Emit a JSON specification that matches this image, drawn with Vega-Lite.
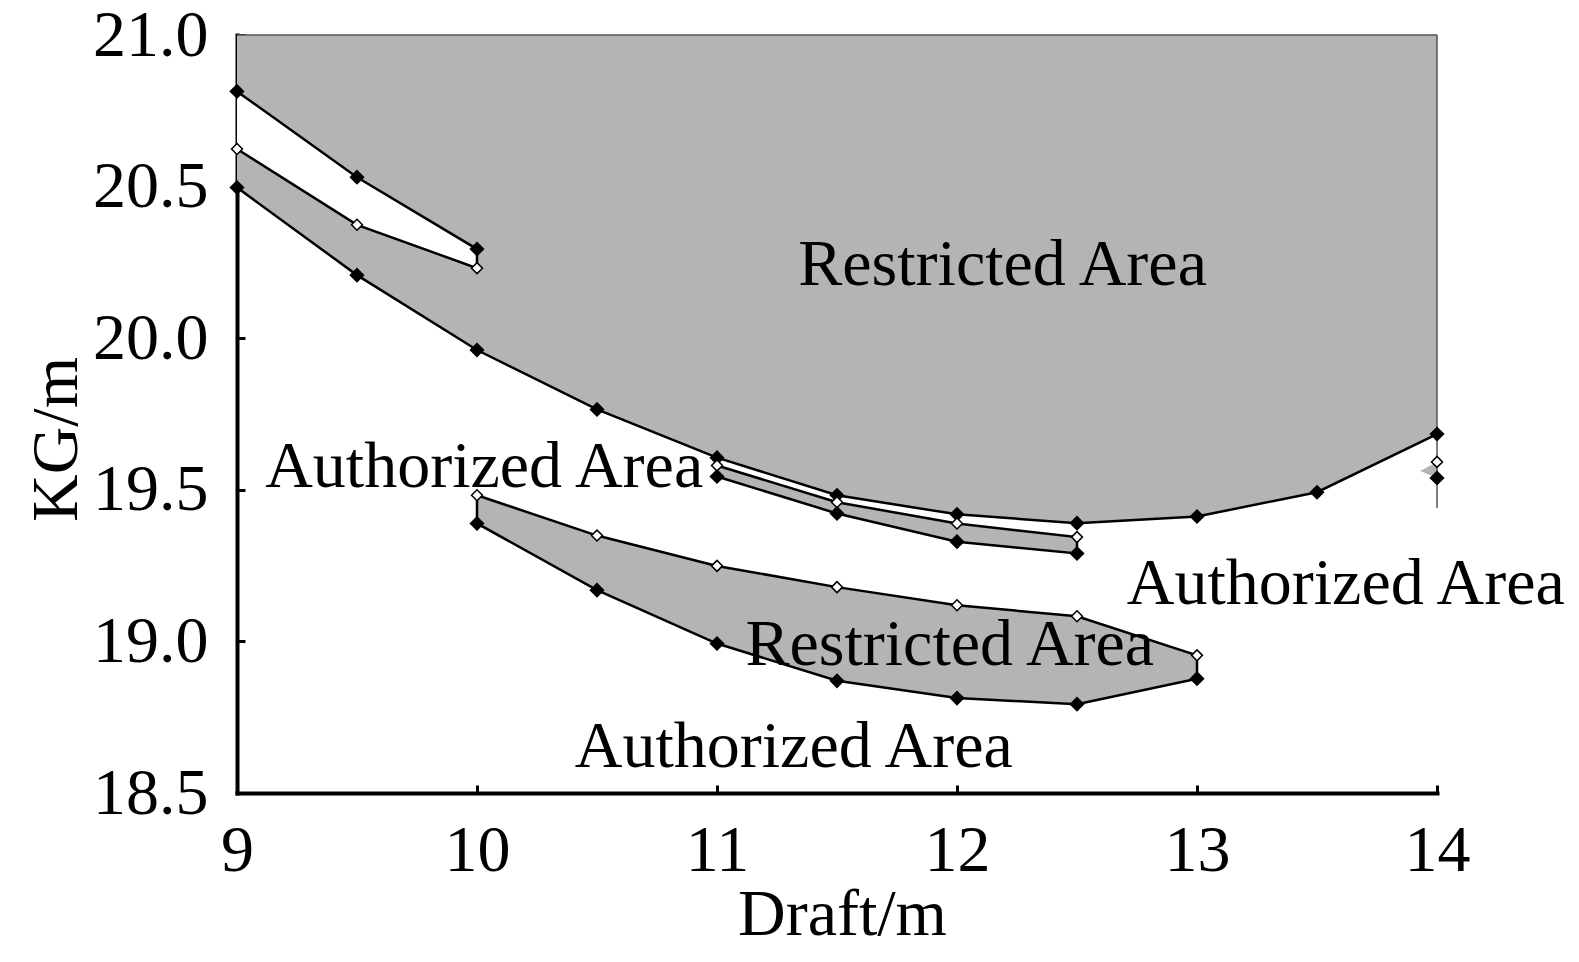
{
  "$schema": "https://vega.github.io/schema/vega-lite/v6.json",
  "width": 1200,
  "height": 758,
  "autosize": {"type": "none"},
  "padding": {"left": 237, "top": 35, "right": 142, "bottom": 169},
  "background": "white",
  "config": {
    "view": {"stroke": null},
    "font": "Liberation Serif",
    "axis": {
      "labelFont": "Liberation Serif",
      "titleFont": "Liberation Serif",
      "labelFontSize": 66,
      "titleFontSize": 66,
      "labelColor": "black",
      "titleColor": "black",
      "titleFontWeight": "normal",
      "domainColor": "black",
      "domainWidth": 4,
      "domainCap": "square",
      "tickColor": "black",
      "tickWidth": 3,
      "tickSize": -8,
      "grid": false
    }
  },
  "datasets": {
    "main": [
      {"x": 9, "y": 20.497, "y2": 21},
      {"x": 9.5, "y": 20.208, "y2": 21},
      {"x": 10, "y": 19.961, "y2": 21},
      {"x": 10.5, "y": 19.765, "y2": 21},
      {"x": 11, "y": 19.606, "y2": 21},
      {"x": 11.5, "y": 19.482, "y2": 21},
      {"x": 12, "y": 19.419, "y2": 21},
      {"x": 12.5, "y": 19.39, "y2": 21},
      {"x": 13, "y": 19.412, "y2": 21},
      {"x": 13.5, "y": 19.492, "y2": 21},
      {"x": 14, "y": 19.684, "y2": 21}
    ],
    "wedge": [
      {"x": 9, "y": 20.814, "y2": 20.624},
      {"x": 9.5, "y": 20.531, "y2": 20.374},
      {"x": 10, "y": 20.294, "y2": 20.231}
    ],
    "strip": [
      {"x": 11, "y": 19.58, "y2": 19.544},
      {"x": 11.5, "y": 19.459, "y2": 19.422},
      {"x": 12, "y": 19.389, "y2": 19.329},
      {"x": 12.5, "y": 19.344, "y2": 19.29}
    ],
    "lower": [
      {"x": 10, "y": 19.482, "y2": 19.389},
      {"x": 10.5, "y": 19.349, "y2": 19.169},
      {"x": 11, "y": 19.249, "y2": 18.993},
      {"x": 11.5, "y": 19.179, "y2": 18.87},
      {"x": 12, "y": 19.119, "y2": 18.813},
      {"x": 12.5, "y": 19.083, "y2": 18.793},
      {"x": 13, "y": 18.954, "y2": 18.877}
    ],
    "tri": [
      {"x": 13.93, "y": 19.562, "y2": 19.562},
      {"x": 14, "y": 19.592, "y2": 19.539}
    ],
    "edges": [
      {"x": 14, "x2": 14, "y": 19.44, "y2": 21},
      {"x": 9, "x2": 14, "y": 21, "y2": 21}
    ],
    "paths": [
      {"s": "main", "i": 1, "x": 9, "y": 20.497},
      {"s": "main", "i": 2, "x": 9.5, "y": 20.208},
      {"s": "main", "i": 3, "x": 10, "y": 19.961},
      {"s": "main", "i": 4, "x": 10.5, "y": 19.765},
      {"s": "main", "i": 5, "x": 11, "y": 19.606},
      {"s": "main", "i": 6, "x": 11.5, "y": 19.482},
      {"s": "main", "i": 7, "x": 12, "y": 19.419},
      {"s": "main", "i": 8, "x": 12.5, "y": 19.39},
      {"s": "main", "i": 9, "x": 13, "y": 19.412},
      {"s": "main", "i": 10, "x": 13.5, "y": 19.492},
      {"s": "main", "i": 11, "x": 14, "y": 19.684},
      {"s": "wedge", "i": 1, "x": 9, "y": 20.814},
      {"s": "wedge", "i": 2, "x": 9.5, "y": 20.531},
      {"s": "wedge", "i": 3, "x": 10, "y": 20.294},
      {"s": "wedge", "i": 4, "x": 10, "y": 20.231},
      {"s": "wedge", "i": 5, "x": 9.5, "y": 20.374},
      {"s": "wedge", "i": 6, "x": 9, "y": 20.624},
      {"s": "strip", "i": 1, "x": 11, "y": 19.58},
      {"s": "strip", "i": 2, "x": 11.5, "y": 19.459},
      {"s": "strip", "i": 3, "x": 12, "y": 19.389},
      {"s": "strip", "i": 4, "x": 12.5, "y": 19.344},
      {"s": "strip", "i": 5, "x": 12.5, "y": 19.29},
      {"s": "strip", "i": 6, "x": 12, "y": 19.329},
      {"s": "strip", "i": 7, "x": 11.5, "y": 19.422},
      {"s": "strip", "i": 8, "x": 11, "y": 19.544},
      {"s": "lower", "i": 1, "x": 10, "y": 19.482},
      {"s": "lower", "i": 2, "x": 10.5, "y": 19.349},
      {"s": "lower", "i": 3, "x": 11, "y": 19.249},
      {"s": "lower", "i": 4, "x": 11.5, "y": 19.179},
      {"s": "lower", "i": 5, "x": 12, "y": 19.119},
      {"s": "lower", "i": 6, "x": 12.5, "y": 19.083},
      {"s": "lower", "i": 7, "x": 13, "y": 18.954},
      {"s": "lower", "i": 8, "x": 13, "y": 18.877},
      {"s": "lower", "i": 9, "x": 12.5, "y": 18.793},
      {"s": "lower", "i": 10, "x": 12, "y": 18.813},
      {"s": "lower", "i": 11, "x": 11.5, "y": 18.87},
      {"s": "lower", "i": 12, "x": 11, "y": 18.993},
      {"s": "lower", "i": 13, "x": 10.5, "y": 19.169},
      {"s": "lower", "i": 14, "x": 10, "y": 19.389},
      {"s": "lower", "i": 15, "x": 10, "y": 19.482}
    ],
    "pts": [
      {"x": 9, "y": 20.497, "k": "b"},
      {"x": 9.5, "y": 20.208, "k": "b"},
      {"x": 10, "y": 19.961, "k": "b"},
      {"x": 10.5, "y": 19.765, "k": "b"},
      {"x": 11, "y": 19.606, "k": "b"},
      {"x": 11.5, "y": 19.482, "k": "b"},
      {"x": 12, "y": 19.419, "k": "b"},
      {"x": 12.5, "y": 19.39, "k": "b"},
      {"x": 13, "y": 19.412, "k": "b"},
      {"x": 13.5, "y": 19.492, "k": "b"},
      {"x": 14, "y": 19.684, "k": "b"},
      {"x": 9, "y": 20.814, "k": "b"},
      {"x": 9.5, "y": 20.531, "k": "b"},
      {"x": 10, "y": 20.294, "k": "b"},
      {"x": 10, "y": 20.231, "k": "w"},
      {"x": 9.5, "y": 20.374, "k": "w"},
      {"x": 9, "y": 20.624, "k": "w"},
      {"x": 11, "y": 19.58, "k": "w"},
      {"x": 11.5, "y": 19.459, "k": "w"},
      {"x": 12, "y": 19.389, "k": "w"},
      {"x": 12.5, "y": 19.344, "k": "w"},
      {"x": 12.5, "y": 19.29, "k": "b"},
      {"x": 12, "y": 19.329, "k": "b"},
      {"x": 11.5, "y": 19.422, "k": "b"},
      {"x": 11, "y": 19.544, "k": "b"},
      {"x": 10, "y": 19.482, "k": "w"},
      {"x": 10.5, "y": 19.349, "k": "w"},
      {"x": 11, "y": 19.249, "k": "w"},
      {"x": 11.5, "y": 19.179, "k": "w"},
      {"x": 12, "y": 19.119, "k": "w"},
      {"x": 12.5, "y": 19.083, "k": "w"},
      {"x": 13, "y": 18.954, "k": "w"},
      {"x": 13, "y": 18.877, "k": "b"},
      {"x": 12.5, "y": 18.793, "k": "b"},
      {"x": 12, "y": 18.813, "k": "b"},
      {"x": 11.5, "y": 18.87, "k": "b"},
      {"x": 11, "y": 18.993, "k": "b"},
      {"x": 10.5, "y": 19.169, "k": "b"},
      {"x": 10, "y": 19.389, "k": "b"},
      {"x": 14, "y": 19.592, "k": "w"},
      {"x": 14, "y": 19.539, "k": "b"}
    ],
    "labels": [
      {"x": 12.19, "y": 20.175, "t": "Restricted Area"},
      {"x": 10.03, "y": 19.509, "t": "Authorized Area"},
      {"x": 13.62, "y": 19.123, "t": "Authorized Area"},
      {"x": 11.97, "y": 18.922, "t": "Restricted Area"},
      {"x": 11.32, "y": 18.586, "t": "Authorized Area"}
    ]
  },
  "encoding": {
    "x": {
      "field": "x", "type": "quantitative",
      "scale": {"domain": [9, 14], "nice": false, "zero": false},
      "axis": {"title": "Draft/m", "values": [9, 10, 11, 12, 13, 14], "format": "d", "labelPadding": 33, "titleX": 605, "titleY": 141, "titleAlign": "center", "titleBaseline": "alphabetic", "labelFlush": false}
    },
    "y": {
      "field": "y", "type": "quantitative",
      "scale": {"domain": [18.5, 21], "nice": false, "zero": false},
      "axis": {"title": "KG/m", "values": [18.5, 19, 19.5, 20, 20.5, 21], "format": ".1f", "labelPadding": 37, "titleX": -161, "titleY": 404, "titleAngle": -90, "titleAlign": "center", "titleBaseline": "alphabetic", "labelFlush": false}
    }
  },
  "layer": [
    {
      "data": {"name": "main"},
      "mark": {"type": "area", "color": "#b4b4b4", "clip": false},
      "encoding": {"y2": {"field": "y2"}}
    },
    {
      "data": {"name": "wedge"},
      "mark": {"type": "area", "color": "white"},
      "encoding": {"y2": {"field": "y2"}}
    },
    {
      "data": {"name": "strip"},
      "mark": {"type": "area", "color": "#b4b4b4"},
      "encoding": {"y2": {"field": "y2"}}
    },
    {
      "data": {"name": "lower"},
      "mark": {"type": "area", "color": "#b4b4b4"},
      "encoding": {"y2": {"field": "y2"}}
    },
    {
      "data": {"name": "tri"},
      "mark": {"type": "area", "color": "#b4b4b4"},
      "encoding": {"y2": {"field": "y2"}}
    },
    {
      "data": {"name": "edges"},
      "mark": {"type": "rule", "color": "#555555", "strokeWidth": 1.5},
      "encoding": {"x2": {"field": "x2"}, "y2": {"field": "y2"}}
    },
    {
      "data": {"name": "paths"},
      "mark": {"type": "line", "color": "black", "strokeWidth": 2.5, "clip": false},
      "encoding": {
        "detail": {"field": "s"},
        "order": {"field": "i", "type": "quantitative"}
      }
    },
    {
      "data": {"name": "pts"},
      "mark": {"type": "point", "shape": "diamond", "filled": false, "stroke": "black", "strokeWidth": 1.5, "opacity": 1, "clip": false},
      "encoding": {
        "fill": {"field": "k", "type": "nominal", "scale": {"domain": ["b", "w"], "range": ["black", "white"]}, "legend": null},
        "size": {"field": "k", "type": "nominal", "scale": {"domain": ["b", "w"], "range": [170, 120]}, "legend": null}
      }
    },
    {
      "data": {"name": "labels"},
      "mark": {"type": "text", "font": "Liberation Serif", "fontSize": 66, "color": "black", "align": "center", "baseline": "alphabetic", "clip": false},
      "encoding": {"text": {"field": "t"}}
    }
  ]
}
